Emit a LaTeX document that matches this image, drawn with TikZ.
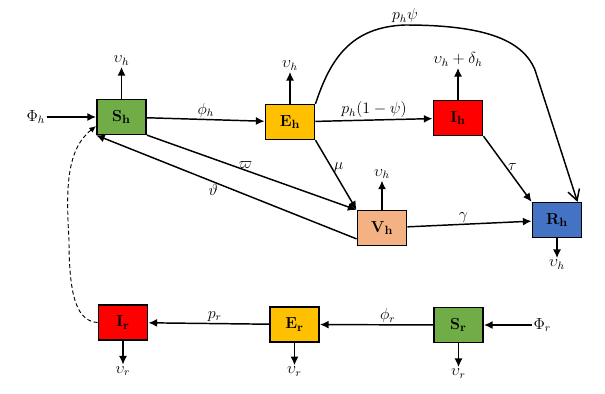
\documentclass[tikz,border=0pt]{standalone}
\usepackage{amsmath,amssymb}
\usetikzlibrary{arrows.meta,positioning,calc}
\definecolor{shgreen}{RGB}{112,173,71}
\definecolor{ehgold}{RGB}{255,192,0}
\definecolor{ihred}{RGB}{255,0,0}
\definecolor{vhpeach}{RGB}{244,177,131}
\definecolor{rhblue}{RGB}{68,114,196}

\begin{document}
\begin{tikzpicture}[
    x=0.75pt,
    y=-0.75pt,
    >={Latex[length=6.5pt,width=6pt]}
]

\tikzset{
    b/.style={
        draw=black,
        line width=1.2pt,
        minimum width=37pt,
        minimum height=26pt,
        inner sep=0pt,
        font=\fontsize{12.5}{14}\selectfont
    },
    lab/.style={
        font=\fontsize{12}{14}\selectfont,
        inner sep=1pt
    },
    flow/.style={
        ->,
        line width=1.1pt
    }
}

\useasboundingbox (0,0) rectangle (605,393);

\node[b, fill=shgreen] (sh) at (121.5,117) {$\mathbf{S_h}$};
\node[b, fill=ehgold] (eh) at (290,122) {$\mathbf{E_h}$};
\node[b, fill=ihred] (ih) at (458,118) {$\mathbf{I_h}$};
\node[b, fill=vhpeach] (vh) at (382,228) {$\mathbf{V_h}$};
\node[b, fill=rhblue] (rh) at (557,220) {$\mathbf{R_h}$};

\node[b, fill=ihred] (ir) at (123,322.5) {$\mathbf{I_r}$};
\node[b, fill=ehgold] (er) at (294.5,324.5) {$\mathbf{E_r}$};
\node[b, fill=shgreen] (sr) at (458.5,325) {$\mathbf{S_r}$};

\node[lab, left=37pt of sh] (phish) {$\Phi_h$};
\node[lab, right=36pt of sr] (phisr) {$\Phi_r$};

\node[lab, above=24pt of sh] (ush) {$\upsilon_h$};
\node[lab, above=24pt of eh] (ueh) {$\upsilon_h$};
\node[lab, above=24pt of ih] (uih) {$\upsilon_h+\delta_h$};
\node[lab, above=22pt of vh] (uvh) {$\upsilon_h$};
\node[lab, below=15pt of rh] (urh) {$\upsilon_h$};
\node[lab, below=18pt of ir] (uir) {$\upsilon_r$};
\node[lab, below=17pt of er] (uer) {$\upsilon_r$};
\node[lab, below=18pt of sr] (usr) {$\upsilon_r$};

\draw[flow] (phish) -- (sh);
\draw[flow] (phisr) -- (sr);

\draw[flow] (sh) -- (ush);
\draw[flow] (eh) -- (ueh);
\draw[flow] (ih) -- (uih);
\draw[flow] (vh) -- (uvh);
\draw[flow] (rh) -- (urh);
\draw[flow] (ir) -- (uir);
\draw[flow] (er) -- (uer);
\draw[flow] (sr) -- (usr);

\draw[flow] (sh) -- node[lab, above] {$\phi_h$} (eh);
\draw[flow] (eh) -- node[lab, above] {$p_h(1-\psi)$} (ih);
\draw[flow] (ih.south east) -- node[lab, pos=0.47, right] {$\tau$} (rh.north west);
\draw[flow] (eh.south east) -- node[lab, pos=0.4, right] {$\mu$} (vh.north west);
\draw[flow] (vh) -- node[lab, pos=0.45, above] {$\gamma$} (rh);
\draw[flow] (sh.south east) -- node[lab, pos=0.47, above] {$\varpi$} (vh.north west);
\draw[flow] ($(vh.west)!0.6!(vh.south west)$) -- node[lab, pos=0.55, below] {$\vartheta$} (sh.south west);

\draw[flow] (sr) -- node[lab, pos=0.4, above] {$\phi_r$} (er);
\draw[flow] (er) -- node[lab, pos=0.45, above] {$p_r$} (ir);

\draw[line width=1.1pt, -{Straight Barb[length=8pt,width=9pt]}]
(eh.north east) .. controls (330,60) and (350,27) .. (405,25)
node[lab, above] {$p_h\psi$}
.. controls (480,25) and (522,38) .. (535,70)
-- ($(rh.north east)+(-5,0)$);

\draw[line width=0.7pt, dash pattern=on 3pt off 2pt, -{Latex[length=5pt,width=4.5pt]}]
(ir.west) .. controls (78,321) and (69,300) .. (69,240)
.. controls (66,190) and (66,150) .. ($(sh.west)!0.5!(sh.south west)$);

\end{tikzpicture}
\end{document}
